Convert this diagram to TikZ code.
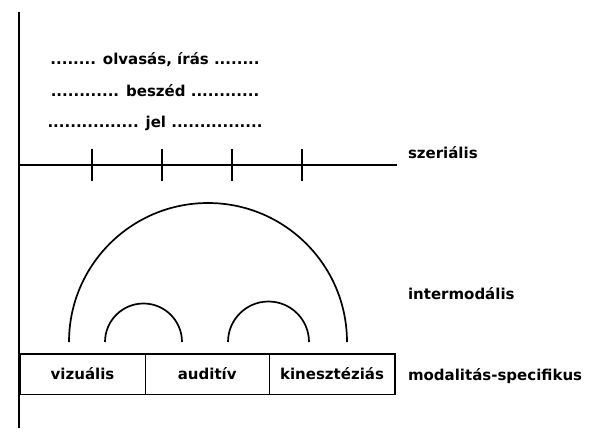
\documentclass[tikz,border=0pt]{standalone}
\usepackage{fontspec}
\setmainfont{DejaVu Sans}
\usetikzlibrary{positioning}

\begin{document}
\begin{tikzpicture}[x=1pt, y=-1pt, line width=2pt,
    lbl/.style={font=\bfseries\fontsize{15}{17}\selectfont, inner sep=0pt},
    modbox/.style={draw, line width=1.5pt, minimum height=40.5pt, inner sep=0pt, outer sep=0pt, font=\bfseries\fontsize{15}{17}\selectfont}]
    \useasboundingbox (0,0) rectangle (609,442);

    % Axes
    \draw (19,12) -- (19,428);
    \coordinate (s0) at (19,165);
    \coordinate (s1) at (397,165);
    \draw (s0) -- (s1);
    \foreach \x in {92,162,232,302} {
        \draw (\x,149) -- (\x,181);
    }

    % Serial levels
    \node[lbl] (olv) at (155,60) {........ olvasás, írás ........};
    \node[lbl] (besz) at (155,91) {............ beszéd ............};
    \node[lbl] (jel) at (155,123) {................ jel ................};

    % Level labels
    \node[lbl, anchor=west] (szer) at (407,153) {szeriális};
    \node[lbl, anchor=west] (inter) at (407,294) {intermodális};
    \node[lbl, anchor=west] (modsp) at (407,376) {modalitás-specifikus};

    % Modality boxes
    \node[modbox, minimum width=125.5pt, anchor=north west] (viz) at (19.75,353.75) {vizuális};
    \node[modbox, minimum width=124pt, anchor=north west] (aud) at (viz.north east) {auditív};
    \node[modbox, minimum width=125.5pt, anchor=north west] (kin) at (aud.north east) {kinesztéziás};

    % Intermodal arcs
    \draw[line width=1.7pt] (69,342) arc[start angle=180, end angle=360, radius=139];
    \draw[line width=1.7pt] (105,342) arc[start angle=180, end angle=360, radius=38.5];
    \draw[line width=1.7pt] (228,342) arc[start angle=180, end angle=360, radius=40.5];
\end{tikzpicture}
\end{document}
